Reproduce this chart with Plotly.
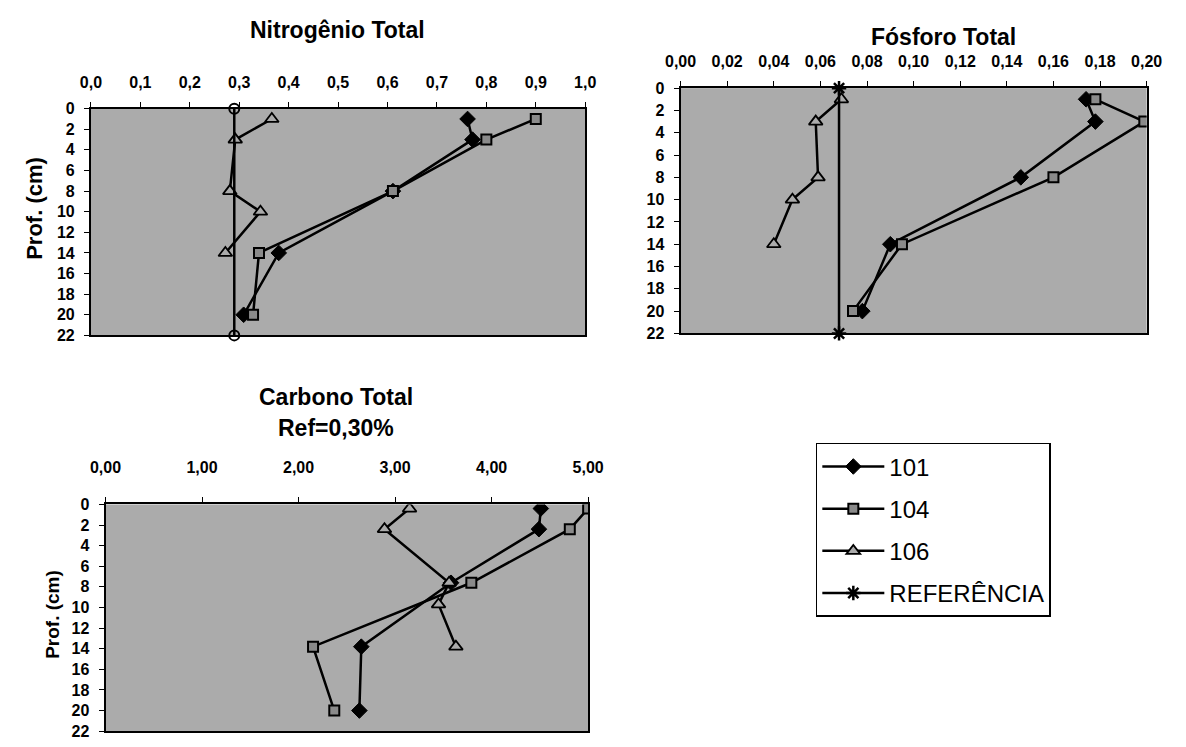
import plotly.graph_objects as go

W, H = 1186, 747

# ---------------- data ----------------
DEPTH_A = [1, 3, 8, 14, 20]        # series 101 and 104
DEPTH_B = [1, 3, 8, 10, 14]        # series 106
DEPTH_REF = [0, 22]                # reference line

N_101 = [0.762, 0.772, 0.611, 0.380, 0.309]
N_104 = [0.900, 0.800, 0.611, 0.340, 0.328]
N_106 = [0.366, 0.292, 0.281, 0.343, 0.272]
N_REF = [0.29, 0.29]

P_101 = [0.174, 0.178, 0.146, 0.090, 0.078]
P_104 = [0.178, 0.199, 0.160, 0.095, 0.074]
P_106 = [0.069, 0.058, 0.059, 0.048, 0.040]
P_REF = [0.068, 0.068]

C_DEPTH_A = [0.4, 2.4, 7.6, 13.8, 20]
C_DEPTH_B = [0.4, 2.4, 7.6, 9.7, 13.8]
C_101 = [4.51, 4.49, 3.58, 2.65, 2.63]
C_104 = [5.00, 4.81, 3.79, 2.15, 2.37]
C_106 = [3.15, 2.89, 3.56, 3.45, 3.63]

Y_TICKS = list(range(0, 23, 2))
SERIES_NAMES = ["101", "104", "106", "REFERÊNCIA"]

# ---------------- styles ----------------
FONT = "Liberation Sans"
BG = "#ababab"
LINE = dict(color="black", width=2.5)
MK = {
    "101": dict(symbol="diamond", size=12, color="black", line=dict(color="black", width=1)),
    "104": dict(symbol="square", size=10, color="#8a8a8a", line=dict(color="black", width=2)),
    "106": dict(symbol="triangle-up", size=12, color=BG, line=dict(color="black", width=1.8)),
    "REF": dict(symbol="asterisk-open", size=12, color="black", line=dict(color="black", width=2.5)),
    "REFN": dict(symbol="circle-open", size=10, color="black", line=dict(color="black", width=2)),
}


def px_x(p):
    return p / W


def px_y(p):
    return 1 - p / H


fig = go.Figure()


def add(x, y, key, name, xa, ya, show, mk=None, clip=True):
    fig.add_trace(go.Scatter(
        x=x, y=y, mode="lines+markers", name=name, legendgroup=name,
        showlegend=show, line=LINE, marker=MK[mk or key],
        xaxis=xa, yaxis=ya, cliponaxis=clip,
    ))


# Nitrogênio
add(N_101, DEPTH_A, "101", SERIES_NAMES[0], "x", "y", True)
add(N_104, DEPTH_A, "104", SERIES_NAMES[1], "x", "y", True)
add(N_106, DEPTH_B, "106", SERIES_NAMES[2], "x", "y", True)
add(N_REF, DEPTH_REF, "REF", SERIES_NAMES[3], "x", "y", False, mk="REFN", clip=False)
# Fósforo
add(P_101, DEPTH_A, "101", SERIES_NAMES[0], "x2", "y2", False)
add(P_104, DEPTH_A, "104", SERIES_NAMES[1], "x2", "y2", False)
add(P_106, DEPTH_B, "106", SERIES_NAMES[2], "x2", "y2", False)
add(P_REF, DEPTH_REF, "REF", SERIES_NAMES[3], "x2", "y2", True, clip=False)
# Carbono
add(C_101, C_DEPTH_A, "101", SERIES_NAMES[0], "x3", "y3", False)
add(C_104, C_DEPTH_A, "104", SERIES_NAMES[1], "x3", "y3", False)
add(C_106, C_DEPTH_B, "106", SERIES_NAMES[2], "x3", "y3", False)

tickfont = dict(family=FONT, size=16, color="black", weight="bold")


def xaxis(dom, rng, dtick, fmt, standoff, anchor):
    return dict(domain=dom, range=rng, dtick=dtick, tick0=0, tickformat=fmt, side="top",
                anchor=anchor,
                showgrid=False, zeroline=False, showline=True, mirror=True,
                linecolor="black", linewidth=2, ticks="outside", ticklen=5,
                tickcolor="black", tickwidth=1, tickfont=tickfont,
                ticklabelstandoff=standoff)


def yaxis(dom, anchor):
    return dict(domain=dom, range=[22, 0], tickvals=Y_TICKS, anchor=anchor,
                showgrid=False, zeroline=False, showline=True, mirror=True,
                linecolor="black", linewidth=2, ticks="outside", ticklen=5,
                tickcolor="black", tickwidth=1, tickfont=tickfont,
                ticklabelstandoff=6)


fig.update_layout(
    width=W, height=H, margin=dict(l=0, r=0, t=0, b=0),
    paper_bgcolor="white", plot_bgcolor=BG, separators=",.",
    font=dict(family=FONT, color="black"),
    xaxis=xaxis([px_x(77), px_x(585)], [0, 1.0], 0.1, ".1f", 7, "y"),
    yaxis=yaxis([px_y(335), px_y(103)], "x"),
    xaxis2=xaxis([px_x(683), px_x(1162)], [0, 0.2], 0.02, ".2f", 8, "y2"),
    yaxis2=yaxis([px_y(333), px_y(82)], "x2"),
    xaxis3=xaxis([px_x(92), px_x(588)], [0, 5], 1, ".2f", 18, "y3"),
    yaxis3=yaxis([px_y(740), px_y(508)], "x3"),
    showlegend=True,
    legend=dict(x=px_x(822), y=px_y(445), xanchor="left", yanchor="top",
                bgcolor="white", bordercolor="black", borderwidth=1.5,
                font=dict(family=FONT, size=24, color="black"),
                tracegroupgap=8, itemwidth=62),
)

title_font = dict(family=FONT, size=23, color="black", weight="bold")
TITLES = [
    ("Nitrogênio Total", 330, 23),
    ("Fósforo Total", 953, 30),
    ("Carbono Total", 329, 398),
    ("Ref=0,30%", 329, 430),
]
for text, x, y in TITLES:
    fig.add_annotation(text=text, x=px_x(x), y=px_y(y), xref="paper", yref="paper",
                       showarrow=False, font=title_font, xanchor="center", yanchor="middle")

YTITLES = [
    ("Prof. (cm)", 19, 205, 22),
    ("Prof. (cm)", 38, 620, 19),
]
for text, x, y, s in YTITLES:
    fig.add_annotation(text=text, x=px_x(x), y=px_y(y), xref="paper", yref="paper",
                       showarrow=False, textangle=-90, xanchor="center", yanchor="middle",
                       font=dict(family=FONT, size=s, color="black", weight="bold"))

fig.write_html("out.html")
